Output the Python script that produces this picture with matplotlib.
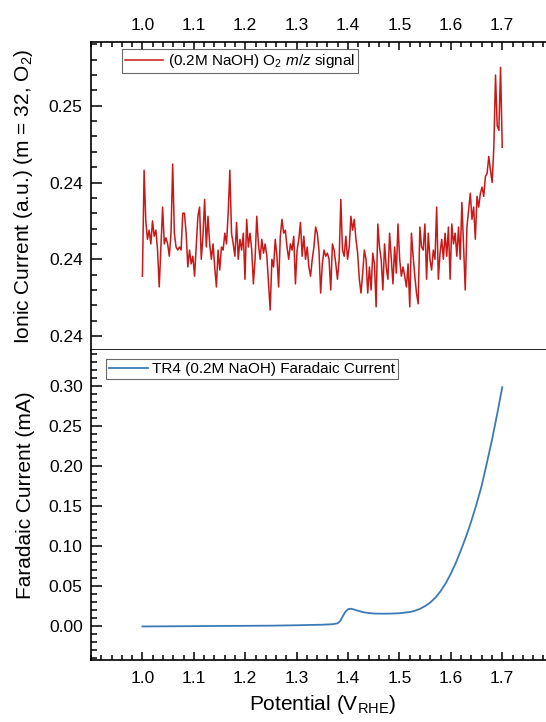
import numpy as np
import matplotlib
matplotlib.use('Agg')
import matplotlib.pyplot as plt
from matplotlib.ticker import FixedLocator, FixedFormatter, MultipleLocator

plt.rcParams['font.family'] = ['Liberation Sans', 'DejaVu Sans']
plt.rcParams['mathtext.fontset'] = 'custom'
plt.rcParams['mathtext.rm'] = 'Liberation Sans'
plt.rcParams['mathtext.it'] = 'Liberation Sans:italic'
plt.rcParams['mathtext.bf'] = 'Liberation Sans:bold'

# O2 (m/z = 32) ionic current over the sweep, 1.0 -> 1.7 V
ionic_current = [
    0.2389, 0.2458, 0.2425, 0.2413, 0.2419, 0.2410, 0.2425, 0.2415, 0.2419, 0.2406,
    0.2382, 0.2408, 0.2434, 0.2410, 0.2414, 0.2410, 0.2402, 0.2417, 0.2462, 0.2417,
    0.2408, 0.2406, 0.2408, 0.2406, 0.2430, 0.2430, 0.2417, 0.2395, 0.2406, 0.2397,
    0.2402, 0.2389, 0.2408, 0.2428, 0.2434, 0.2400, 0.2415, 0.2439, 0.2408, 0.2428,
    0.2410, 0.2400, 0.2410, 0.2395, 0.2382, 0.2406, 0.2393, 0.2408, 0.2406, 0.2417,
    0.2410, 0.2430, 0.2458, 0.2417, 0.2410, 0.2402, 0.2424, 0.2400, 0.2413, 0.2406,
    0.2417, 0.2387, 0.2426, 0.2408, 0.2417, 0.2406, 0.2384, 0.2400, 0.2428, 0.2410,
    0.2400, 0.2413, 0.2404, 0.2410, 0.2402, 0.2384, 0.2367, 0.2400, 0.2395, 0.2413,
    0.2402, 0.2382, 0.2415, 0.2426, 0.2417, 0.2419, 0.2408, 0.2400, 0.2410, 0.2406,
    0.2415, 0.2384, 0.2406, 0.2413, 0.2424, 0.2402, 0.2415, 0.2400, 0.2408, 0.2395,
    0.2389, 0.2400, 0.2408, 0.2421, 0.2417, 0.2406, 0.2378, 0.2397, 0.2406, 0.2402,
    0.2404,
    0.2400, 0.2380, 0.2410, 0.2406, 0.2397, 0.2387, 0.2400, 0.2439, 0.2406, 0.2402,
    0.2415, 0.2400, 0.2408, 0.2428, 0.2419, 0.2426, 0.2413, 0.2404, 0.2387, 0.2378,
    0.2391, 0.2406, 0.2400, 0.2378, 0.2395, 0.2380, 0.2404, 0.2397, 0.2369, 0.2423,
    0.2408, 0.2400, 0.2380, 0.2410, 0.2395, 0.2387, 0.2417, 0.2400, 0.2384, 0.2408,
    0.2391, 0.2423, 0.2400, 0.2389, 0.2395, 0.2389, 0.2382, 0.2397, 0.2369, 0.2417,
    0.2402, 0.2389, 0.2378, 0.2371, 0.2421, 0.2408, 0.2406, 0.2423, 0.2387, 0.2417,
    0.2400, 0.2393, 0.2406, 0.2400, 0.2434, 0.2387, 0.2404, 0.2413, 0.2400, 0.2417,
    0.2402, 0.2421, 0.2387, 0.2423, 0.2410, 0.2417, 0.2402, 0.2421, 0.2400, 0.2437,
    0.2408, 0.2380, 0.2421, 0.2432, 0.2443, 0.2426, 0.2434, 0.2413, 0.2441, 0.2434,
    0.2443, 0.2447, 0.2441, 0.2454, 0.2456, 0.2467, 0.2458, 0.2450,
    0.2473, 0.2520, 0.2487, 0.2484, 0.2525, 0.2473,
]
ionic_potential = np.linspace(1.0, 1.7, len(ionic_current))

# Faradaic current (mA) from the LSV
faradaic_potential = [
    1.00, 1.05, 1.10, 1.15, 1.20, 1.25, 1.30, 1.35, 1.37, 1.38,
    1.385, 1.39, 1.395, 1.40, 1.405, 1.41, 1.42, 1.43, 1.44, 1.45,
    1.46, 1.48, 1.50, 1.52, 1.53, 1.54, 1.55, 1.56, 1.57, 1.58,
    1.59, 1.60, 1.61, 1.62, 1.63, 1.64, 1.65, 1.66, 1.67, 1.68,
    1.69, 1.70,
]
faradaic_current = [
    -0.0010, -0.0008, -0.0006, -0.0004, -0.0002, 0.0000, 0.0005, 0.0012, 0.0018, 0.0030,
    0.0060, 0.0120, 0.0175, 0.0205, 0.0212, 0.0205, 0.0185, 0.0168, 0.0158, 0.0152,
    0.0150, 0.0150, 0.0155, 0.0170, 0.0185, 0.0210, 0.0245, 0.0290, 0.0350, 0.0430,
    0.0530, 0.0650, 0.0790, 0.0950, 0.1120, 0.1310, 0.1520, 0.1750, 0.2030, 0.2320,
    0.2640, 0.2980,
]

x_ticks = [1.0, 1.1, 1.2, 1.3, 1.4, 1.5, 1.6, 1.7]
x_tick_labels = ['1.0', '1.1', '1.2', '1.3', '1.4', '1.5', '1.6', '1.7']
ionic_ticks = [0.235, 0.240, 0.245, 0.250]
ionic_tick_labels = ['0.24', '0.24', '0.24', '0.25']
faradaic_ticks = [0.00, 0.05, 0.10, 0.15, 0.20, 0.25, 0.30]
faradaic_tick_labels = ['0.00', '0.05', '0.10', '0.15', '0.20', '0.25', '0.30']

fig = plt.figure(figsize=(5.46, 7.22), dpi=100)
ax1 = fig.add_axes([0.1667, 0.5152, 0.8473, 0.4270])
ax2 = fig.add_axes([0.1667, 0.0859, 0.8473, 0.4294])

# --- top panel: mass spec signal ---
ax1.plot(ionic_potential, ionic_current, color='#c81818', lw=1.1,
         label=r'(0.2M NaOH) O$_2$ $m/z$ signal')
ax1.set_xlim(0.9, 1.8)
ax1.set_ylim(0.23409, 0.25417)
ax1.xaxis.tick_top()
ax1.xaxis.set_major_locator(FixedLocator(x_ticks))
ax1.xaxis.set_major_formatter(FixedFormatter(x_tick_labels))
ax1.xaxis.set_minor_locator(MultipleLocator(0.02))
ax1.yaxis.set_major_locator(FixedLocator(ionic_ticks))
ax1.yaxis.set_major_formatter(FixedFormatter(ionic_tick_labels))
ax1.yaxis.set_minor_locator(MultipleLocator(0.001))
ax1.set_ylabel(r'Ionic Current (a.u.) (m = 32, O$_2$)', fontsize=15)
ax1.yaxis.set_label_coords(-0.122, 0.5)

# --- bottom panel: faradaic current ---
ax2.plot(faradaic_potential, faradaic_current, color='#3d7ab5', lw=1.3,
         label='TR4 (0.2M NaOH) Faradaic Current')
ax2.set_xlim(0.9, 1.8)
ax2.set_ylim(-0.0429, 0.3446)
ax2.xaxis.set_major_locator(FixedLocator(x_ticks))
ax2.xaxis.set_major_formatter(FixedFormatter(x_tick_labels))
ax2.xaxis.set_minor_locator(MultipleLocator(0.02))
ax2.yaxis.set_major_locator(FixedLocator(faradaic_ticks))
ax2.yaxis.set_major_formatter(FixedFormatter(faradaic_tick_labels))
ax2.yaxis.set_minor_locator(MultipleLocator(0.01))
ax2.set_ylabel('Faradaic Current (mA)', fontsize=15)
ax2.yaxis.set_label_coords(-0.122, 0.53)
ax2.set_xlabel(r'Potential (V$_{\mathrm{RHE}}$)', fontsize=15, labelpad=5)

for ax in (ax1, ax2):
    ax.spines['right'].set_visible(False)
    for s in ax.spines.values():
        s.set_linewidth(1.2)
    ax.tick_params(axis='both', which='both', direction='in', width=1.1,
                   labelsize=12.5, colors='black')
    ax.tick_params(axis='y', which='major', length=8, pad=6)
    ax.tick_params(axis='y', which='minor', length=4)
    ax.tick_params(axis='x', which='major', length=6, pad=8)
    ax.tick_params(axis='x', which='minor', length=3.5)
    ax.tick_params(axis='y', right=False)

ax1.tick_params(axis='x', which='both', top=True, bottom=False, pad=6)
ax2.tick_params(axis='x', which='both', top=False, bottom=True)
ax2.spines['top'].set_visible(False)

leg1 = ax1.legend(loc='upper left', bbox_to_anchor=(0.067, 0.977), fontsize=11,
                  frameon=True, fancybox=False, borderaxespad=0, borderpad=0.2,
                  handlelength=2.5, handletextpad=0.3)
leg2 = ax2.legend(loc='upper left', bbox_to_anchor=(0.033, 0.971), fontsize=11,
                  frameon=True, fancybox=False, borderaxespad=0, borderpad=0.2,
                  handlelength=2.5, handletextpad=0.3)
for leg in (leg1, leg2):
    leg.get_frame().set_edgecolor('#444444')
    leg.get_frame().set_linewidth(0.8)

fig.savefig('out.png', dpi=100)
